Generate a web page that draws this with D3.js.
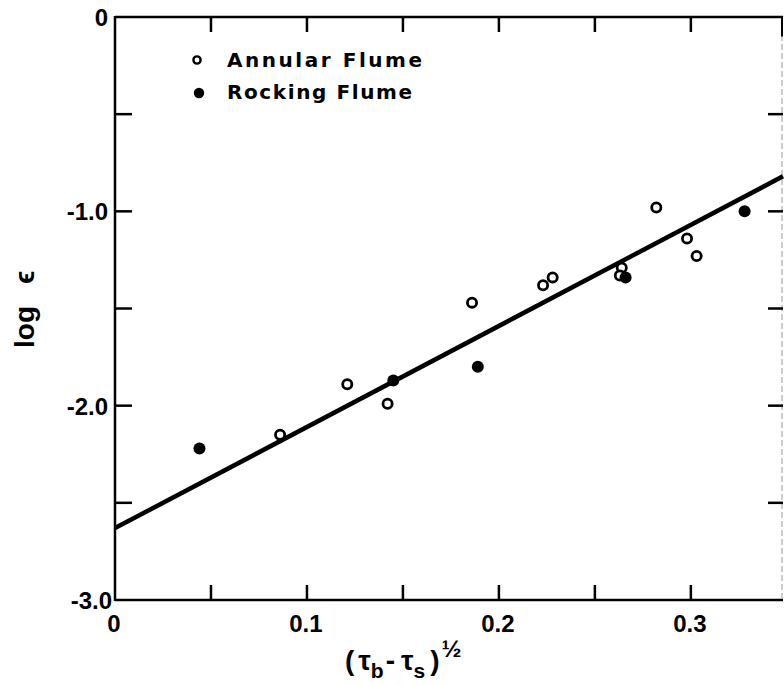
<!DOCTYPE html>
<html>
<head>
	<title>log e vs shear stress</title>
	<meta charset="utf-8">
	<script type="text/javascript" src="https://cdn.jsdelivr.net/npm/d3@7/dist/d3.min.js"></script>
	<style type="text/css">
	     body{
	     	margin:0;
	     	background:#fff;
	     }
	     .lbl{
	     	font-family:"Liberation Sans", Arial, sans-serif;
	     	font-weight:bold;
	     	fill:#000;
	     }
	     .leg{
	     	font-family:"DejaVu Sans", sans-serif;
	     }
	</style>
</head>
<body>
<div id="chart"></div>
<script type="text/javascript">
    // data
    var annularX=[0.086,0.121,0.142,0.186,0.223,0.228,0.264,0.263,0.282,0.298,0.303];
    var annularY=[-2.15,-1.89,-1.99,-1.47,-1.38,-1.34,-1.29,-1.33,-0.98,-1.14,-1.23];
    var rockingX=[0.044,0.145,0.189,0.266,0.328];
    var rockingY=[-2.22,-1.87,-1.80,-1.34,-1.00];
    var fitX=[0,0.348];
    var fitY=[-2.63,-0.82];
    var xTicks=[0,0.1,0.2,0.3];
    var xTickLabels=['0','0.1','0.2','0.3'];
    var yTicks=[0,-1,-2,-3];
    var yTickLabels=['0','-1.0','-2.0','-3.0'];
    var minorX=[0.05,0.1,0.15,0.2,0.25,0.3];
    var minorY=[-0.5,-1,-1.5,-2,-2.5];
    var legendNames=['Annular Flume','Rocking Flume'];

    var W=784,H=686;
    var svg=d3.select('#chart').append('svg')
        .attr('width',W).attr('height',H);
    svg.append('rect').attr('width',W).attr('height',H).attr('fill','#fff');

    var x=d3.scaleLinear().domain([0,0.348]).range([115,783]);
    var y=d3.scaleLinear().domain([-3,0]).range([600,17]);
    var tl=15;//tick length, ticks point inward

    // frame
    svg.append('line').attr('x1',x(0)).attr('x2',x(0)).attr('y1',y(0)-1).attr('y2',y(-3)+1)
       .attr('stroke','#000').attr('stroke-width',2.5);
    svg.append('line').attr('x1',x(0)).attr('x2',x(0.348)).attr('y1',y(0)).attr('y2',y(0))
       .attr('stroke','#000').attr('stroke-width',2.5);
    svg.append('line').attr('x1',x(0)).attr('x2',x(0.348)).attr('y1',y(-3)).attr('y2',y(-3))
       .attr('stroke','#000').attr('stroke-width',2.5);
    svg.append('line').attr('x1',x(0.348)-1).attr('x2',x(0.348)-1).attr('y1',y(0)).attr('y2',y(-3))
       .attr('stroke','#aaa').attr('stroke-width',1.2).attr('stroke-dasharray','6,3');
    svg.append('line').attr('x1',x(0.348)-1).attr('x2',x(0.348)-1).attr('y1',y(0)).attr('y2',y(-0.1))
       .attr('stroke','#000').attr('stroke-width',2);

    // inward ticks on all four sides
    minorX.forEach(function(d){
        svg.append('line').attr('x1',x(d)).attr('x2',x(d)).attr('y1',y(-3)).attr('y2',y(-3)-tl)
           .attr('stroke','#000').attr('stroke-width',2.5);
        svg.append('line').attr('x1',x(d)).attr('x2',x(d)).attr('y1',y(0)).attr('y2',y(0)+tl)
           .attr('stroke','#000').attr('stroke-width',2.5);
    });
    minorY.forEach(function(d){
        svg.append('line').attr('x1',x(0)).attr('x2',x(0)+tl+2).attr('y1',y(d)).attr('y2',y(d))
           .attr('stroke','#000').attr('stroke-width',2.5);
        svg.append('line').attr('x1',x(0.348)).attr('x2',x(0.348)-tl).attr('y1',y(d)).attr('y2',y(d))
           .attr('stroke','#000').attr('stroke-width',2.5);
    });

    // tick labels
    svg.selectAll('.xt').data(xTicks).enter().append('text')
       .attr('class','lbl xt')
       .attr('x',function(d){return x(d)-1;})
       .attr('y',632)
       .attr('text-anchor','middle')
       .attr('font-size',24)
       .text(function(d,i){return xTickLabels[i];});
    svg.selectAll('.yt').data(yTicks).enter().append('text')
       .attr('class','lbl yt')
       .attr('x',function(d,i){return i==0?108:(i==3?112:108);})
       .attr('y',function(d){return y(d)+9;})
       .attr('text-anchor','end')
       .attr('font-size',24)
       .text(function(d,i){return yTickLabels[i];});

    // fitted line
    svg.append('line')
       .attr('x1',x(fitX[0])).attr('y1',y(fitY[0]))
       .attr('x2',x(fitX[1])).attr('y2',y(fitY[1]))
       .attr('stroke','#000').attr('stroke-width',4.5);

    // points
    svg.selectAll('.ann').data(annularX).enter().append('circle')
       .attr('class','ann')
       .attr('cx',function(d){return x(d);})
       .attr('cy',function(d,i){return y(annularY[i]);})
       .attr('r',4.6)
       .attr('fill','#fff').attr('stroke','#000').attr('stroke-width',2.8);
    svg.selectAll('.rock').data(rockingX).enter().append('circle')
       .attr('class','rock')
       .attr('cx',function(d){return x(d);})
       .attr('cy',function(d,i){return y(rockingY[i]);})
       .attr('r',6)
       .attr('fill','#000');

    // legend
    svg.append('circle').attr('cx',197).attr('cy',60).attr('r',3.6)
       .attr('fill','#fff').attr('stroke','#000').attr('stroke-width',2.4);
    svg.append('circle').attr('cx',199).attr('cy',93).attr('r',5.2).attr('fill','#000');
    svg.selectAll('.leg').data(legendNames).enter().append('text')
       .attr('class','lbl leg')
       .attr('x',227)
       .attr('y',function(d,i){return i==0?67:99;})
       .attr('font-size',20)
       .attr('textLength',function(d,i){return i==0?195:185;})
       .attr('lengthAdjust','spacing')
       .text(function(d){return d;});

    // axis titles
    var xt=svg.append('text').attr('class','lbl').attr('x',345).attr('y',670).attr('font-size',28);
    xt.append('tspan').text('(');
    xt.append('tspan').attr('dx',4).text('τ');
    xt.append('tspan').attr('dy',8).attr('font-size',21).text('b');
    xt.append('tspan').attr('dy',-8).attr('dx',2).text('-');
    xt.append('tspan').attr('dx',6).text('τ');
    xt.append('tspan').attr('dy',8).attr('font-size',21).text('s');
    xt.append('tspan').attr('dy',-8).attr('dx',5).text(')');
    xt.append('tspan').attr('dy',-13).attr('dx',2).attr('font-size',24).text('½');

    var yt=svg.append('text').attr('class','lbl')
       .attr('transform','translate(34,348) rotate(-90)')
       .attr('font-size',28);
    yt.append('tspan').text('log');
    yt.append('tspan').attr('dx',22).text('ϵ');
</script>
</body>
</html>
